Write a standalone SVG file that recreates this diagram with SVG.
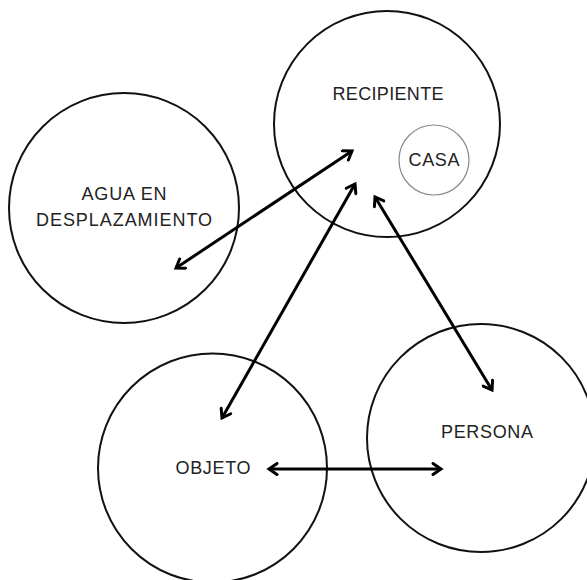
<svg xmlns="http://www.w3.org/2000/svg" width="587" height="580" viewBox="0 0 587 580">
<style>
.node{fill:none;stroke:#111;stroke-width:2}
.sub{fill:none;stroke:#888;stroke-width:1.2}
.lbl{font-family:"Liberation Sans",Arial,sans-serif;font-size:18px;fill:#222;text-anchor:middle}
.conn{stroke:#000;stroke-width:3;fill:none;marker-start:url(#ah);marker-end:url(#ah)}
</style>
<defs>
<marker id="ah" markerUnits="userSpaceOnUse" viewBox="0 0 14 14" markerWidth="14" markerHeight="14" refX="11" refY="7" orient="auto-start-reverse">
<path d="M3,1.5 L11,7 L3,12.5" fill="none" stroke="#000" stroke-width="3" stroke-linecap="round" stroke-linejoin="miter"/>
</marker>
</defs>
<rect width="587" height="580" fill="#fff"/>
<g id="recipiente">
<circle class="node" cx="387" cy="124" r="113"/>
<text class="lbl" x="388" y="100" textLength="111" lengthAdjust="spacing">RECIPIENTE</text>
</g>
<g id="casa">
<circle class="sub" cx="434" cy="160" r="35"/>
<text class="lbl" x="434" y="166" textLength="51" lengthAdjust="spacing">CASA</text>
</g>
<g id="agua">
<circle class="node" cx="124" cy="208" r="115"/>
<text class="lbl" x="124" y="200" textLength="85" lengthAdjust="spacing">AGUA EN</text>
<text class="lbl" x="124" y="226" textLength="176" lengthAdjust="spacing">DESPLAZAMIENTO</text>
</g>
<g id="objeto">
<circle class="node" cx="212.5" cy="468" r="114.5"/>
<text class="lbl" x="213" y="474" textLength="75" lengthAdjust="spacing">OBJETO</text>
</g>
<g id="persona">
<circle class="node" cx="481" cy="438" r="114"/>
<text class="lbl" x="487" y="438" textLength="92" lengthAdjust="spacing">PERSONA</text>
</g>
<g id="connectors">
<line class="conn" x1="176" y1="268" x2="352" y2="151"/>
<line class="conn" x1="222" y1="418" x2="355" y2="184"/>
<line class="conn" x1="375" y1="197" x2="492" y2="390"/>
<line class="conn" x1="269" y1="469" x2="441" y2="469"/>
</g>
</svg>
